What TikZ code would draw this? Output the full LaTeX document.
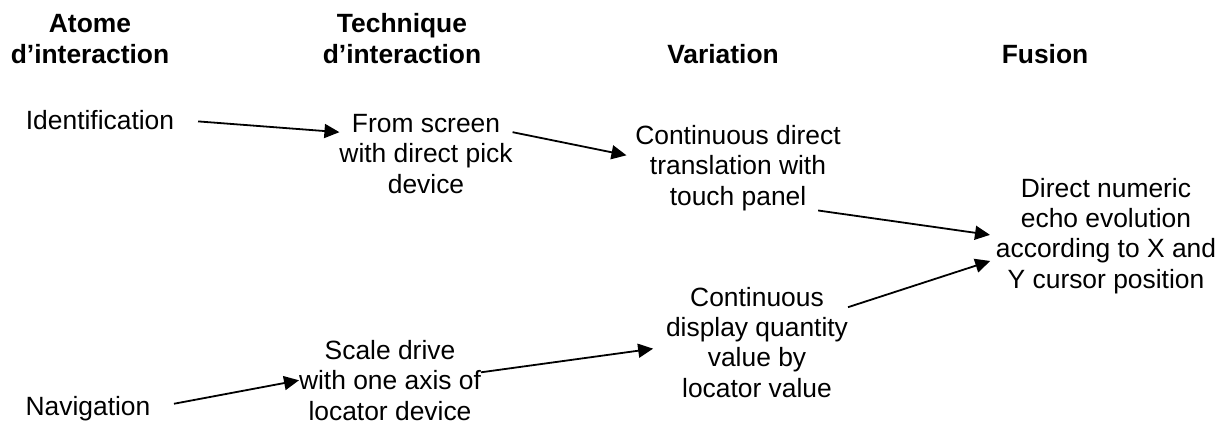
\documentclass[tikz,border=0pt]{standalone}
\usepackage{fontspec}
\setmainfont{Liberation Sans}
\usetikzlibrary{arrows.meta}

\tikzset{
	txt/.style={align=center, inner sep=0pt, outer sep=0pt, anchor=base,
		font=\fontsize{13.2}{15.15}\selectfont},
	titre/.style={txt, font=\fontsize{13.2}{15.15}\selectfont\bfseries},
	fl/.style={-{Triangle[length=7.5pt,width=7pt]}, line width=0.9pt}
}

\begin{document}
\begin{tikzpicture}[x=0.5pt,y=-0.5pt]
	
	\useasboundingbox (0,0) rectangle (1229,425);
	
	% Titres des colonnes (base = derniere ligne)
	\node[titre] (tatome) at (90,63) {Atome\\d’interaction};
	\node[titre] (ttech) at (402,63) {Technique\\d’interaction};
	\node[titre] (tvar) at (723,63) {Variation};
	\node[titre] (tfus) at (1045,63) {Fusion};
	
	% Atomes
	\node[txt] (ident) at (100,129) {Identification};
	\node[txt] (navig) at (88,415) {Navigation};
	
	% Techniques
	\node[txt] (screen) at (426,193) {From screen\\with direct pick\\device};
	\node[txt] (scale) at (390,420) {Scale drive\\with one axis of\\locator device};
	
	% Variations
	\node[txt] (contdirect) at (738,205) {Continuous direct\\translation with\\touch panel};
	\node[txt] (contdisplay) at (757,397) {Continuous\\display quantity\\value by\\locator value};
	
	% Fusion
	\node[txt] (dnum) at (1106,288) {Direct numeric\\echo evolution\\according to X and\\Y cursor position};
	
	% Fleches
	\draw[fl, shorten <=12pt] (ident.east) -- (screen.166);
	\draw[fl, shorten >=4.5pt] (screen.14) -- (contdirect.174);
	\draw[fl, shorten >=3pt] (contdirect.-28) -- (dnum.west);
	\draw[fl, shorten <=12pt] (navig.east) -- (scale.west);
	\draw[fl, shorten >=6.5pt] (scale.5) -- (contdisplay.183);
	\draw[fl, shorten >=3pt] (contdisplay.21) -- (dnum.192);
	
\end{tikzpicture}
\end{document}
